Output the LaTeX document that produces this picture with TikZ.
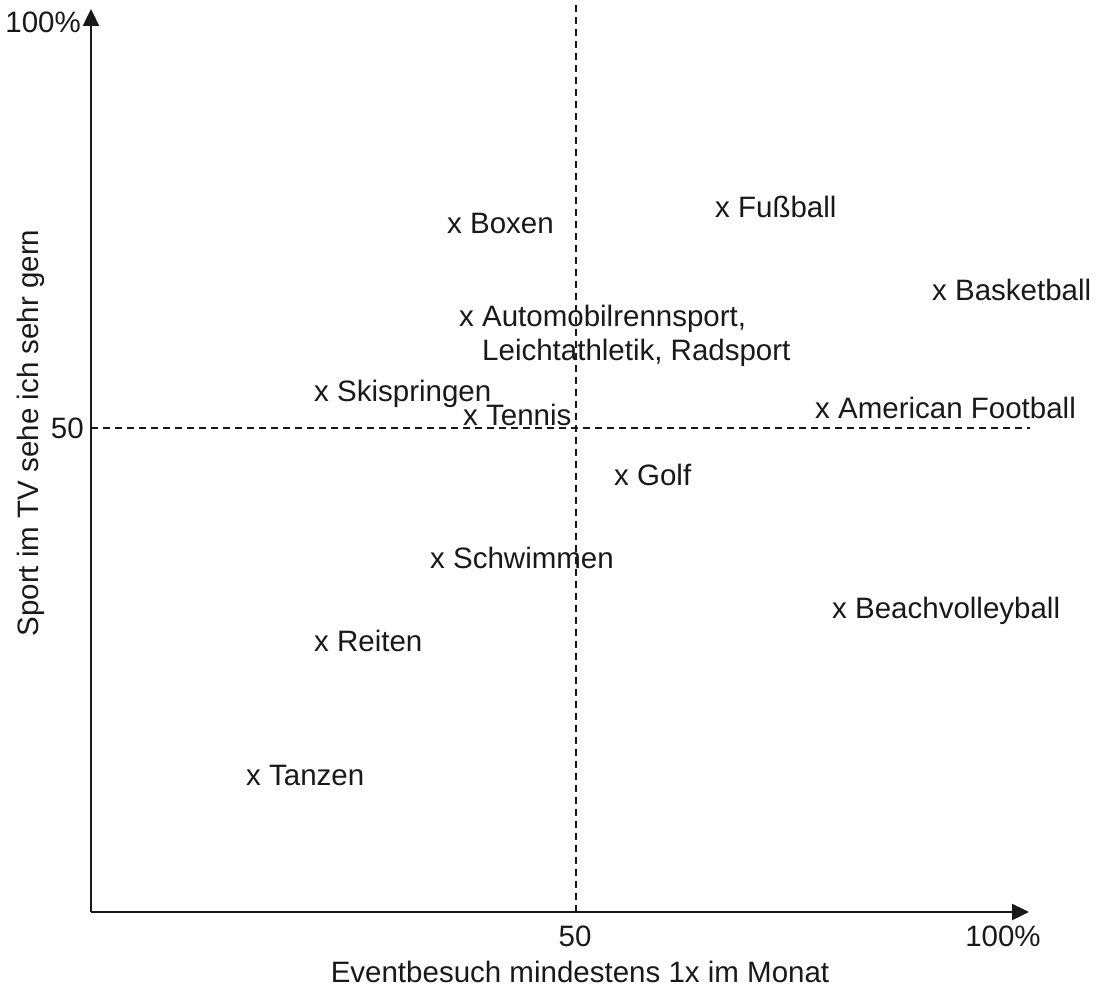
\documentclass[tikz,border=0pt]{standalone}
\usepackage{fontspec}
\setmainfont{Liberation Sans}
\usetikzlibrary{arrows.meta}
\begin{document}
\begin{tikzpicture}[x=1pt,y=-1pt,
  axis/.style={line width=2.4pt,color=black!90,-{Triangle[length=17pt,width=16pt]}},
  guide/.style={line width=2.2pt,color=black!90,dash pattern=on 7pt off 5pt},
  lbl/.style={inner sep=0pt,font=\fontsize{29.5}{35}\selectfont,text=black!90},
  item/.style={lbl,anchor=base west}]
\useasboundingbox (0,0) rectangle (1098,987);

% axes
\coordinate (O) at (91,912);
\coordinate (ytop) at (91,9);
\coordinate (xend) at (1029,912);
\coordinate (vtop) at (576,5);
\coordinate (vbot) at (576,912);
\coordinate (hleft) at (91,428);
\coordinate (hright) at (1030,428);

\draw[guide] (vtop) -- (vbot);
\draw[guide] (hleft) -- (hright);
\draw[axis] (O) -- (ytop);
\draw[axis] (O) -- (xend);

% scale labels
\node[lbl,anchor=base east] (y100) at (81,33) {100\%};
\node[lbl,anchor=base east] (y50) at (84,438) {50};
\node[lbl,anchor=base] (x50) at (575,946) {50};
\node[lbl,anchor=base] (x100) at (1003,946) {100\%};

% axis titles
\node[lbl,anchor=base] (xtitle) at (580,982) {Eventbesuch mindestens 1x im Monat};
\node[lbl,anchor=base,rotate=90] (ytitle) at (38,433) {Sport im TV sehe ich sehr gern};

% sports
\node[item] (boxen) at (447,234) {x Boxen};
\node[item] (fussball) at (715,218) {x Fußball};
\node[item] (basketball) at (932,301) {x Basketball};
\node[item] (auto) at (459,326) {x Automobilrennsport,};
\node[item] (leicht) at (482,360) {Leichtathletik, Radsport};
\node[item] (ski) at (314,401) {x Skispringen};
\node[item] (tennis) at (463,425) {x Tennis};
\node[item] (american) at (815,418) {x American Football};
\node[item] (golf) at (614,485) {x Golf};
\node[item] (schwimmen) at (430,568) {x Schwimmen};
\node[item] (beach) at (832,618) {x Beachvolleyball};
\node[item] (reiten) at (314,651) {x Reiten};
\node[item] (tanzen) at (246,785) {x Tanzen};
\end{tikzpicture}
\end{document}
